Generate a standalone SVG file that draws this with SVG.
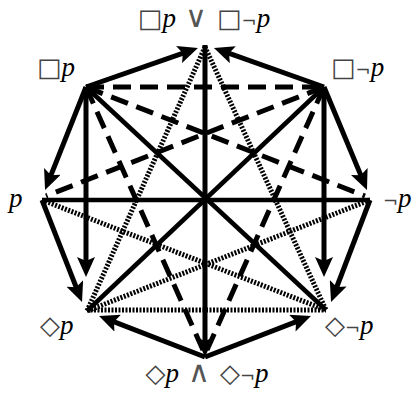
<svg xmlns="http://www.w3.org/2000/svg" width="412" height="398" viewBox="0 0 412 398">
<style>
.s{stroke:#000;fill:none;stroke-width:4.5}
.a{stroke:#000;fill:none;stroke-width:5;marker-end:url(#ah)}
.d{stroke:#000;fill:none;stroke-width:5;stroke-dasharray:18 9}
.o{stroke:#000;fill:none;stroke-width:5;stroke-dasharray:2 1.5}
text{font-family:"Liberation Serif","DejaVu Serif",serif;font-size:27px;fill:#000}
.p{font-style:italic}
.b{font-family:"DejaVu Sans",sans-serif;font-size:26px;fill:#444}
.n{font-family:"DejaVu Sans",sans-serif;font-size:18px;fill:#444}
.v{font-family:"DejaVu Sans",sans-serif;font-size:30px;font-weight:200;fill:#555}
</style>
<defs>
<marker id="ah" viewBox="0 0 20 18" markerWidth="20" markerHeight="18" refX="12" refY="9" orient="auto" markerUnits="userSpaceOnUse">
<path d="M0,0 L20,9 L0,18 L4,9 z" fill="#000"/>
</marker>
</defs>
<rect width="412" height="398" fill="#fff"/>
<g id="connectors">
<line class="o" x1="205" y1="47" x2="87" y2="311"/>
<line class="o" x1="205" y1="47" x2="326" y2="310"/>
<line class="o" x1="42" y1="200" x2="326" y2="310"/>
<line class="o" x1="370" y1="200" x2="87" y2="311"/>
<line class="o" x1="87" y1="310" x2="326" y2="310"/>
<line class="d" x1="86" y1="87" x2="324" y2="87"/>
<line class="d" x1="86" y1="87" x2="365" y2="196"/>
<line class="d" x1="324" y1="87" x2="46" y2="196"/>
<line class="d" x1="86" y1="87" x2="203" y2="350"/>
<line class="d" x1="324" y1="87" x2="207" y2="350"/>
<line class="s" x1="86" y1="87" x2="326" y2="310"/>
<line class="s" x1="324" y1="87" x2="87" y2="311"/>
<line class="s" x1="42" y1="200" x2="370" y2="200"/>
<line class="a" x1="86" y1="87" x2="190.4" y2="50.6"/>
<line class="a" x1="324" y1="87" x2="221.5" y2="50.7"/>
<line class="a" x1="86" y1="87" x2="48" y2="182.6"/>
<line class="a" x1="324" y1="87" x2="363.9" y2="182.6"/>
<line class="a" x1="42" y1="200" x2="79.1" y2="294.6"/>
<line class="a" x1="370" y1="200" x2="333.9" y2="294.5"/>
<line class="a" x1="86" y1="87" x2="86" y2="269"/>
<line class="a" x1="324" y1="87" x2="324" y2="269"/>
<line class="a" x1="205" y1="357" x2="106.5" y2="318.9"/>
<line class="a" x1="205" y1="357" x2="303.5" y2="318.9"/>
<line class="a" x1="205" y1="45" x2="205" y2="349"/>
</g>
<g id="n-top"><text x="204" y="27" text-anchor="middle"><tspan class="b">□</tspan><tspan class="p">p</tspan><tspan class="v"> ∨ </tspan><tspan class="b">□</tspan><tspan class="n">¬</tspan><tspan class="p">p</tspan></text></g>
<g id="n-boxp"><text x="37" y="76"><tspan class="b">□</tspan><tspan class="p">p</tspan></text></g>
<g id="n-boxnotp"><text x="331" y="76"><tspan class="b">□</tspan><tspan class="n">¬</tspan><tspan class="p">p</tspan></text></g>
<g id="n-p"><text x="9" y="207"><tspan class="p">p</tspan></text></g>
<g id="n-notp"><text x="383" y="207"><tspan class="n">¬</tspan><tspan class="p">p</tspan></text></g>
<g id="n-diap"><text x="40" y="334"><tspan class="b">◇</tspan><tspan class="p">p</tspan></text></g>
<g id="n-dianotp"><text x="325" y="334"><tspan class="b">◇</tspan><tspan class="n">¬</tspan><tspan class="p">p</tspan></text></g>
<g id="n-bottom"><text x="207" y="382" text-anchor="middle"><tspan class="b">◇</tspan><tspan class="p">p</tspan><tspan class="v"> ∧ </tspan><tspan class="b">◇</tspan><tspan class="n">¬</tspan><tspan class="p">p</tspan></text></g>
</svg>
